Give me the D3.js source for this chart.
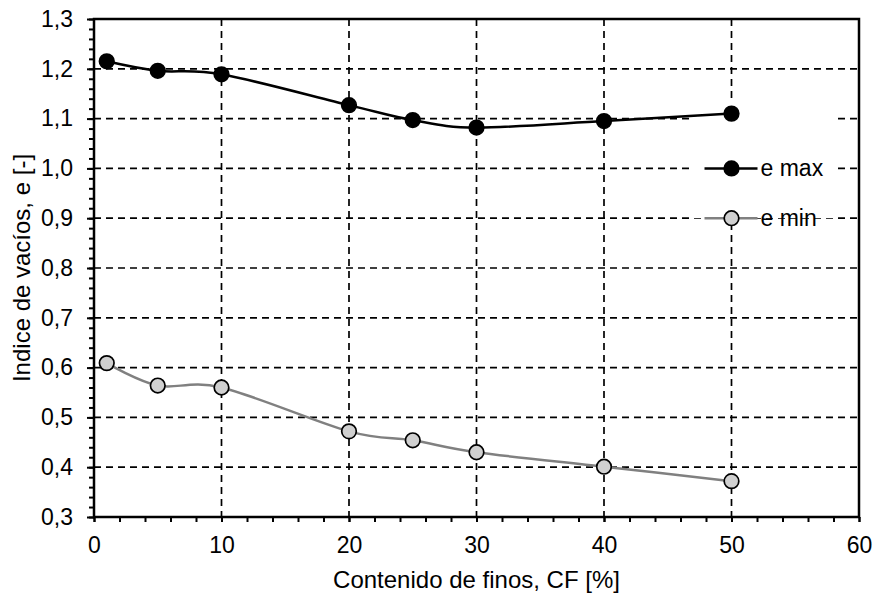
<!DOCTYPE html>
<html>
<head>
<meta charset="utf-8">
<script src="https://cdn.jsdelivr.net/npm/d3@7"></script>
<style>
  body { margin: 0; background: #fff; }
  text { font-family: "Liberation Sans", Arial, sans-serif; fill: #000; }
</style>
</head>
<body>
<svg width="875" height="594"></svg>
<script>
// fines content (%) and void ratios
let finos = [1, 5, 10, 20, 25, 30, 40, 50];
let eMax = [1.215, 1.196, 1.189, 1.127, 1.097, 1.082, 1.095, 1.110];
let eMin = [0.609, 0.564, 0.560, 0.472, 0.454, 0.430, 0.401, 0.372];
let xTicks = [0, 10, 20, 30, 40, 50, 60];
let yTicks = [0.3, 0.4, 0.5, 0.6, 0.7, 0.8, 0.9, 1.0, 1.1, 1.2, 1.3];
let seriesNames = ["e max", "e min"];

let svg = d3.select("svg"),
    margin = {top: 19, right: 16, bottom: 77, left: 94},
    width = +svg.attr("width") - margin.left - margin.right,
    height = +svg.attr("height") - margin.top - margin.bottom;

let g = svg.append("g").attr("transform", "translate(" + margin.left + "," + margin.top + ")");

let x = d3.scaleLinear().domain([0, 60]).range([0, width]);
let y = d3.scaleLinear().domain([0.3, 1.3]).range([height, 0]);
let fmt = function(d) { return d3.format(".1f")(d).replace(".", ","); };

// dashed grid
g.append("g").selectAll("line")
    .data(xTicks.slice(1, -1))
    .enter().append("line")
      .attr("x1", function(d) { return x(d); })
      .attr("x2", function(d) { return x(d); })
      .attr("y1", 0).attr("y2", height)
      .attr("stroke", "#000").attr("stroke-width", 1.7)
      .attr("stroke-dasharray", "7,5");
g.append("g").selectAll("line")
    .data(yTicks.slice(1, -1))
    .enter().append("line")
      .attr("x1", 0).attr("x2", width)
      .attr("y1", function(d) { return y(d); })
      .attr("y2", function(d) { return y(d); })
      .attr("stroke", "#000").attr("stroke-width", 1.7)
      .attr("stroke-dasharray", "7,5");

// minor ticks
let xAxisMinor = d3.axisBottom(x).ticks(30).tickSize(5).tickFormat("");
let yAxisMinor = d3.axisLeft(y).ticks(50).tickSize(5).tickFormat("");
g.append("g").attr("transform", "translate(0," + height + ")").call(xAxisMinor);
g.append("g").call(yAxisMinor);

let xAxis = d3.axisBottom(x).tickValues(xTicks).tickSize(5).tickPadding(15);
let yAxis = d3.axisLeft(y).tickValues(yTicks).tickSize(7).tickFormat(fmt).tickPadding(14);
let gx = g.append("g").attr("transform", "translate(0," + height + ")").call(xAxis);
let gy = g.append("g").call(yAxis);

g.selectAll(".tick line").attr("stroke", "#000").attr("stroke-width", 2);
g.selectAll(".domain").remove();
gx.selectAll("text").style("font-size", "23px").attr("dy", "0.71em");
gy.selectAll("text").style("font-size", "23px");

// frame
g.append("rect")
    .attr("width", width).attr("height", height)
    .attr("fill", "none").attr("stroke", "#000").attr("stroke-width", 2.5);

// legend background hides the grid behind it
let legend = g.append("g");
legend.append("rect")
    .attr("x", x(47)).attr("y", y(1.139))
    .attr("width", x(58.3) - x(47)).attr("height", y(0.92) - y(1.139) + 10)
    .attr("fill", "#fff");

let line = d3.line()
    .x(function(d) { return x(d[0]); })
    .y(function(d) { return y(d[1]); })
    .curve(d3.curveCardinal.tension(0));

let series = [
  {name: seriesNames[0], values: d3.zip(finos, eMax), stroke: "#000", fill: "#000"},
  {name: seriesNames[1], values: d3.zip(finos, eMin), stroke: "#808080", fill: "#d0d0d0"}
];

series.forEach(function(s, i) {
  g.append("path")
      .datum(s.values)
      .attr("d", line)
      .attr("fill", "none")
      .attr("stroke", s.stroke)
      .attr("stroke-width", 2.5);
  g.append("g").selectAll("circle")
      .data(s.values)
      .enter().append("circle")
        .attr("cx", function(d) { return x(d[0]); })
        .attr("cy", function(d) { return y(d[1]); })
        .attr("r", 7.3)
        .attr("fill", s.fill)
        .attr("stroke", "#000")
        .attr("stroke-width", 1.7);

  let ly = y(1.0 - i * 0.1);
  let lx = x(50);
  legend.append("line")
      .attr("x1", lx - 27).attr("x2", lx + 26)
      .attr("y1", ly).attr("y2", ly)
      .attr("stroke", s.stroke).attr("stroke-width", 2.5);
  legend.append("circle")
      .attr("cx", lx).attr("cy", ly).attr("r", 7.3)
      .attr("fill", s.fill).attr("stroke", "#000").attr("stroke-width", 1.7);
  legend.append("text")
      .attr("x", lx + 29).attr("y", ly)
      .attr("dy", "0.35em")
      .style("font-size", "23px")
      .text(s.name);
});

// axis titles
svg.append("text")
    .attr("x", margin.left + width / 2)
    .attr("y", 588)
    .attr("text-anchor", "middle")
    .style("font-size", "24px")
    .text("Contenido de finos, CF [%]");
svg.append("text")
    .attr("transform", "translate(30," + (margin.top + height / 2) + ") rotate(-90)")
    .attr("text-anchor", "middle")
    .style("font-size", "24px")
    .text("Indice de vacíos, e [-]");
</script>
</body>
</html>
